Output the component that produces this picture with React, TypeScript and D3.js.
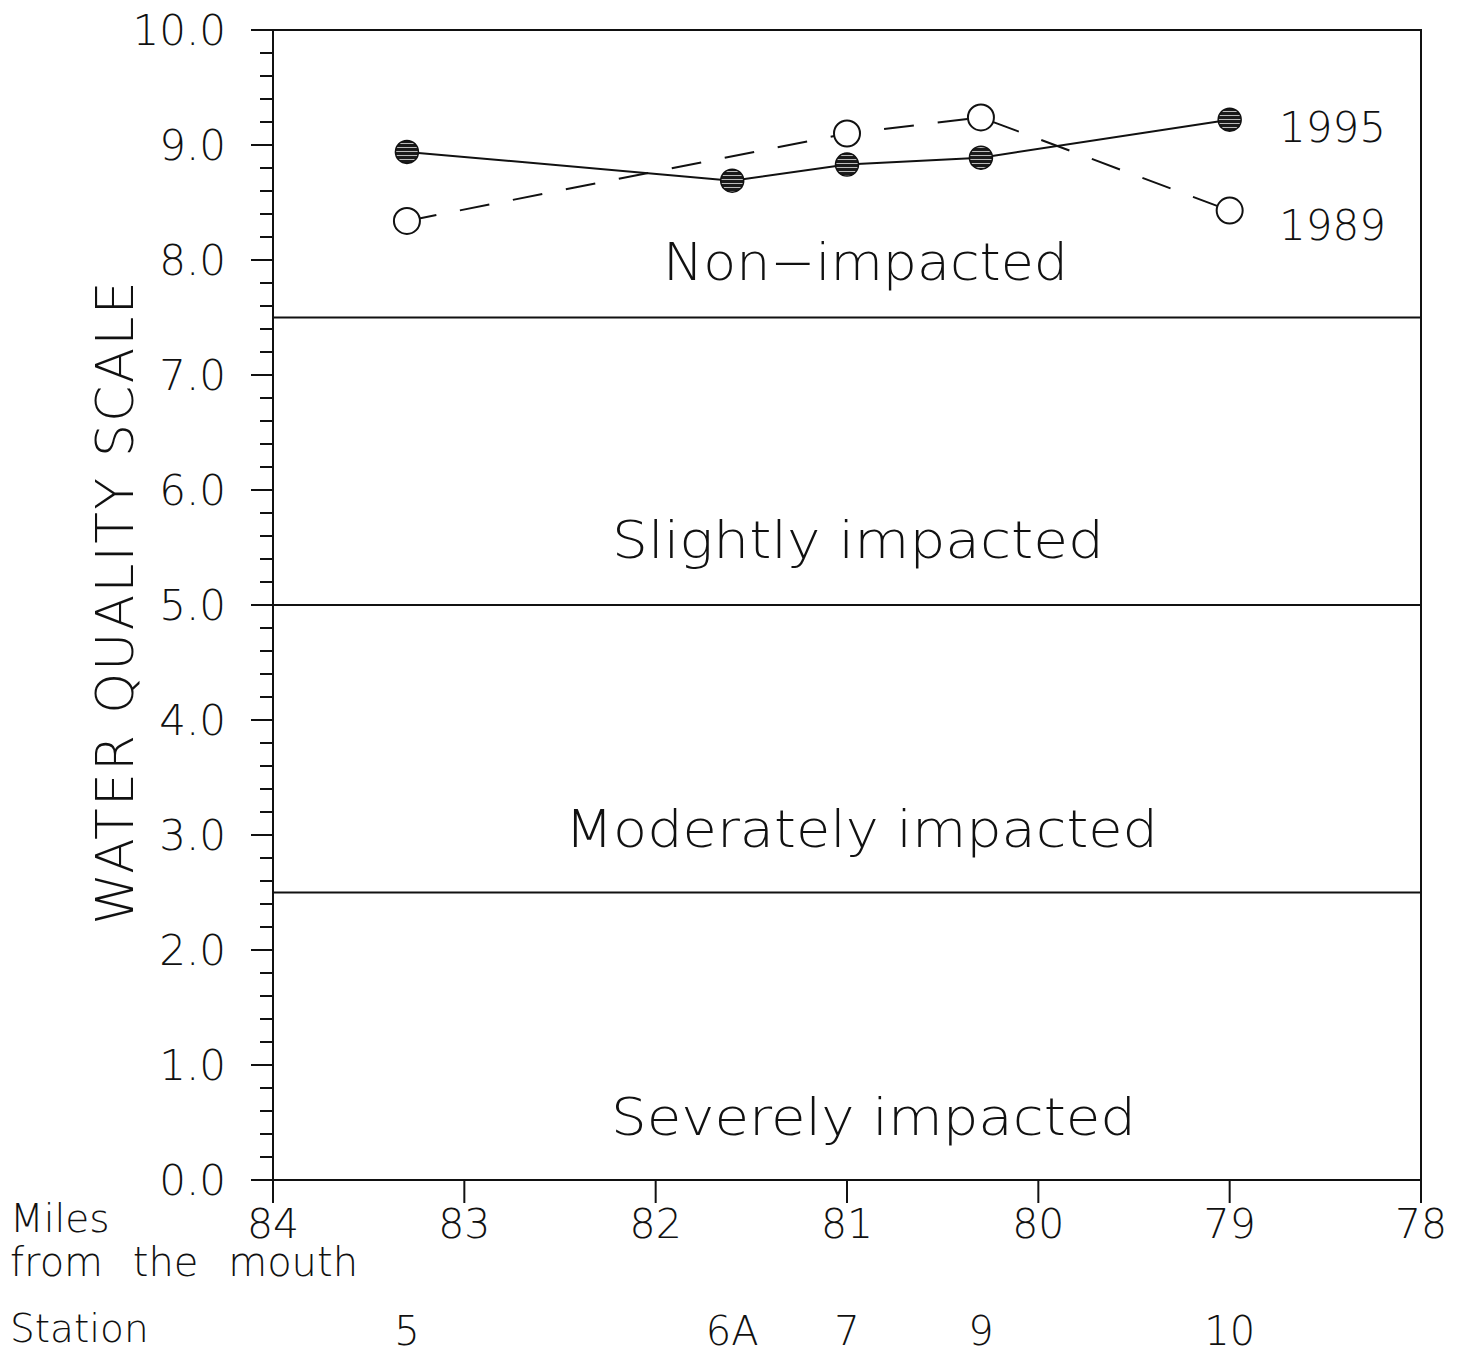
import React from 'react';
import * as d3 from 'd3';

// station positions, miles from the mouth
const stations = ['5', '6A', '7', '9', '10'];
const stationMiles = [83.3, 81.6, 81.0, 80.3, 79.0];

// water quality values
const wq1995 = [8.94, 8.69, 8.83, 8.89, 9.22];
const wq1989 = [8.34, null, 9.10, 9.24, 8.43];

const bandBreaks = [2.5, 5.0, 7.5];
const bandLabels = ['Severely impacted', 'Moderately impacted', 'Slightly impacted', 'Non\u2212impacted'];
const bandLower = [0, 2.5, 5.0, 7.5];

const xTicks = [84, 83, 82, 81, 80, 79, 78];
const yTicks = [0, 1, 2, 3, 4, 5, 6, 7, 8, 9, 10];

const W = 1459;
const H = 1354;
const FONT = '"DejaVu Sans", sans-serif';

// label layout: [left, right, pixels above lower band edge]
const bandLayout = [
  [611, 1136, 45],
  [565, 1158, 46],
  [612, 1104, 47],
  [663, 1068, 38],
];

export default function App() {
  const x = d3.scaleLinear().domain([84, 78]).range([273, 1421]);
  const y = d3.scaleLinear().domain([0, 10]).range([1180, 30]);

  const minor = d3.range(0, 50).map(i => i * 0.2).filter(v => Math.abs(v - Math.round(v)) > 0.01);

  const pts95 = stationMiles.map((m, i) => ({ m, v: wq1995[i] }));
  const pts89 = stationMiles
    .map((m, i) => ({ m, v: wq1989[i] }))
    .filter(d => d.v != null) as { m: number; v: number }[];

  const line = d3.line<{ m: number; v: number }>()
    .x(d => x(d.m))
    .y(d => y(d.v));

  const txt = { fontFamily: FONT, fontWeight: 200, fill: '#111' } as const;

  return (
    <div style={{ position: 'absolute', left: 0, top: 0 }}>
      <svg width={W} height={H} style={{ display: 'block', background: '#fff' }}>
        <defs>
          <pattern id="hatch" width="6" height="4" patternUnits="userSpaceOnUse">
            <rect width="6" height="4" fill="#1a1a1a" />
            <rect y="3" width="6" height="1" fill="#bbb" />
          </pattern>
        </defs>

        {/* frame */}
        <rect x={x(84)} y={y(10)} width={x(78) - x(84)} height={y(0) - y(10)}
          fill="none" stroke="#111" strokeWidth={2} />

        {/* band separators */}
        {bandBreaks.map(b => (
          <line key={b} x1={x(84)} x2={x(78)} y1={y(b)} y2={y(b)} stroke="#111" strokeWidth={2} />
        ))}

        {/* y ticks */}
        {yTicks.map(t => (
          <g key={t}>
            <line x1={x(84) - 22} x2={x(84)} y1={y(t)} y2={y(t)} stroke="#111" strokeWidth={2} />
            <text x={226} y={y(t)} dy="0.36em" textAnchor="end" fontSize={42} {...txt}>
              {t.toFixed(1)}
            </text>
          </g>
        ))}
        {minor.map(t => (
          <line key={'m' + t} x1={x(84) - 13} x2={x(84)} y1={y(t)} y2={y(t)} stroke="#111" strokeWidth={2} />
        ))}

        {/* x ticks */}
        {xTicks.map(t => (
          <g key={t}>
            <line x1={x(t)} x2={x(t)} y1={y(0)} y2={y(0) + 23} stroke="#111" strokeWidth={2} />
            <text x={x(t)} y={1238} textAnchor="middle" fontSize={41} {...txt}>{t}</text>
          </g>
        ))}

        {/* station labels */}
        {stations.map((s, i) => (
          <text key={s} x={x(stationMiles[i])} y={1345} textAnchor="middle" fontSize={40} {...txt}>{s}</text>
        ))}

        <text x={10} y={1232} fontSize={39} {...txt}>Miles</text>
        <text x={10} y={1276} fontSize={40} wordSpacing={17} {...txt}>from the mouth</text>
        <text x={10} y={1342} fontSize={39} {...txt}>Station</text>

        {/* y title */}
        <text transform="translate(133,603) rotate(-90)" textAnchor="middle" fontSize={52}
          textLength={643} lengthAdjust="spacing" {...txt}>
          WATER QUALITY SCALE
        </text>

        {/* band labels */}
        {bandLabels.map((l, i) => {
          const [l0, r0, off] = bandLayout[i];
          return (
            <text key={l} x={l0} y={y(bandLower[i]) - off} fontSize={52}
              textLength={r0 - l0} lengthAdjust="spacingAndGlyphs" {...txt}>
              {l}
            </text>
          );
        })}

        {/* series */}
        <path d={line(pts89) || ''} fill="none" stroke="#111" strokeWidth={2} strokeDasharray="30 24" />
        <path d={line(pts95) || ''} fill="none" stroke="#111" strokeWidth={2} />

        {pts89.map((d, i) => (
          <circle key={'o' + i} cx={x(d.m)} cy={y(d.v)} r={13} fill="#fff" stroke="#111" strokeWidth={2} />
        ))}
        {pts95.map((d, i) => (
          <circle key={'f' + i} cx={x(d.m)} cy={y(d.v)} r={11.5} fill="url(#hatch)" stroke="#111" strokeWidth={1.5} />
        ))}

        {/* series labels */}
        <text x={1279} y={142} fontSize={42} {...txt}>1995</text>
        <text x={1279} y={240} fontSize={42} {...txt}>1989</text>
      </svg>
    </div>
  );
}
